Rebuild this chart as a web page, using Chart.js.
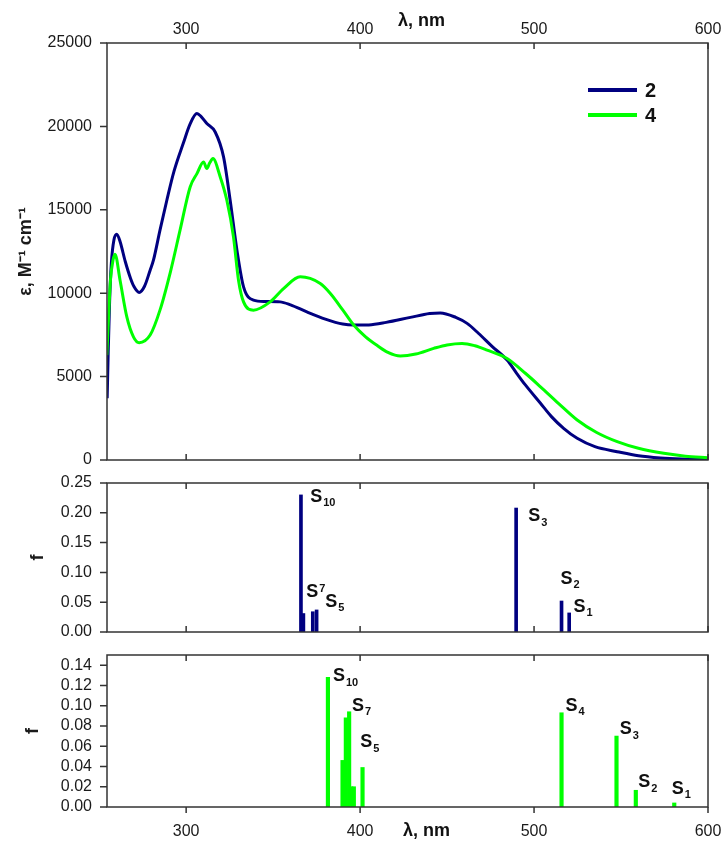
<!DOCTYPE html>
<html>
<head>
<meta charset="utf-8">
<script src="https://cdn.jsdelivr.net/npm/chart.js@4.4.1/dist/chart.umd.min.js"></script>
<style>
html, body { margin: 0; padding: 0; background: #fff; }
#wrap { position: relative; width: 721px; height: 841px; overflow: hidden; }
canvas { position: absolute; left: 0; }
</style>
</head>
<body>
<div id="wrap">
  <canvas id="spec" width="721" height="470" style="top:0px"></canvas>
  <canvas id="osc2" width="721" height="175" style="top:470px"></canvas>
  <canvas id="osc4" width="721" height="201" style="top:640px"></canvas>
</div>
<script>
// ---- data ----
const xTicks = [300, 400, 500, 600];
const epsTicks = [0, 5000, 10000, 15000, 20000, 25000];
const f2Ticks = [0, 0.05, 0.10, 0.15, 0.20, 0.25];
const f4Ticks = [0, 0.02, 0.04, 0.06, 0.08, 0.10, 0.12, 0.14];

// absorption spectrum, compound 2
const wl2 = [254.6, 255.2, 256.0, 257.0, 258.5, 260.1, 262, 265, 268, 270, 273, 276, 279.3, 281.2, 285, 288.9, 293, 298.4,
  302.3, 306.2, 308.5, 311.9, 316.7, 321.5, 325.3, 329.2, 333, 338.7, 345, 354, 360, 369.4, 380, 390, 396.3, 405,
  415, 428.9, 440, 446.1, 455, 461.5, 468, 476, 484.5, 490, 495, 503.7, 510, 517, 524.8, 535, 547.8, 560, 572.7, 585, 600];
const eps2 = [3700, 6500, 9500, 11800, 13200, 13540, 13100, 11900, 10900, 10400, 10045, 10400, 11380, 11980, 13800, 15574, 17300, 19000,
  20150, 20770, 20600, 20170, 19665, 18170, 15574, 12580, 10380, 9584, 9500, 9480, 9300, 8880, 8450, 8150, 8090, 8100,
  8250, 8550, 8780, 8820, 8550, 8190, 7600, 6800, 5990, 5200, 4500, 3400, 2600, 1900, 1300, 800, 500, 250, 120, 60, 30];

// absorption spectrum, compound 4
const wl4 = [254.4, 255.5, 256.5, 258, 259.1, 262, 265.9, 269.7, 273, 279.3, 285, 291, 296.5, 302.3, 306.2, 310,
  311.9, 313.5, 315.4, 319.6, 323.4, 327.2, 330.1, 333, 338.7, 348.3, 356, 365.6, 377.1, 382.9, 390, 396.3, 403,
  410, 416, 423.1, 432, 442.3, 450, 458.6, 466, 473, 484.5, 495, 503.7, 514, 524.8, 536, 547.8, 560, 574.6, 587, 600];
const eps4 = [6290, 8800, 10800, 12000, 12340, 10780, 8580, 7385, 7030, 7490, 9000, 11300, 13780, 16370, 17170, 17870,
  17470, 17800, 18070, 16970, 15570, 13380, 10782, 9480, 8985, 9480, 10280, 10980, 10580, 9985, 9000, 8090, 7400,
  6850, 6450, 6230, 6350, 6690, 6900, 6990, 6850, 6590, 6090, 5200, 4390, 3400, 2400, 1650, 1100, 700, 400, 230, 140];

// oscillator strengths, compound 2
const stickWl2 = [366.0, 367.4, 372.8, 375.0, 489.7, 515.8, 520.2];
const stickF2 = [0.230, 0.031, 0.034, 0.037, 0.208, 0.052, 0.032];
// oscillator strengths, compound 4
const stickWl4 = [381.5, 389.9, 391.8, 393.7, 394.9, 396.4, 401.4, 515.8, 547.4, 558.5, 580.6];
const stickF4 = [0.128, 0.046, 0.088, 0.094, 0.020, 0.020, 0.039, 0.093, 0.070, 0.0165, 0.004];

// state labels (S with subscript), anchored in data space
const lab2Sub = ['10', '7', '5', '3', '2', '1'];
const lab2Wl = [371.3, 369.0, 380.0, 496.6, 515.2, 522.7];
const lab2F = [0.227, 0.067, 0.051, 0.194, 0.089, 0.042];
const lab4Sub = ['10', '7', '5', '4', '3', '2', '1'];
const lab4Wl = [384.4, 395.3, 400.1, 518.1, 549.3, 559.9, 579.1];
const lab4F = [0.129, 0.100, 0.064, 0.100, 0.077, 0.0245, 0.018];

// ---- chart setup ----
const FONT = '"Liberation Sans", Arial, sans-serif';
const NAVY = '#000080', GREEN = '#00ff00', INK = '#333333';
Chart.defaults.font.family = FONT;
Chart.defaults.font.size = 16;
Chart.defaults.color = '#1a1a1a';
Chart.defaults.animation = false;
Chart.defaults.plugins.legend.display = false;
Chart.defaults.plugins.tooltip.enabled = false;

const pts = (xs, ys) => xs.map((x, i) => ({x: x, y: ys[i]}));
const fixedTicks = vals => s => { s.ticks = vals.map(v => ({value: v})); };
const noGrid = {display: false, drawTicks: false};
// fixed axis box, no extra room for edge labels
const fitX = h => s => { s.height = h; s.paddingLeft = 0; s.paddingRight = 0; };
const fitY = s => { s.width = 107; s.paddingTop = 0; s.paddingBottom = 0; };

// frame, inward/outward tick marks, axis title, S labels, legend
const decor = {
  id: 'decor',
  afterDatasetsDraw(chart, args, o) {
    const {ctx, chartArea: a} = chart;
    const xs = chart.scales.x, ys = chart.scales.y;
    ctx.save();
    ctx.strokeStyle = INK;
    ctx.lineWidth = 1.5;
    ctx.strokeRect(a.left, a.top, a.right - a.left, a.bottom - a.top);
    ctx.beginPath();
    ys.ticks.forEach(t => {
      const y = ys.getPixelForValue(t.value);
      ctx.moveTo(a.left - 7, y); ctx.lineTo(a.left, y);
    });
    xTicks.forEach(v => {
      const x = xs.getPixelForValue(v);
      ctx.moveTo(x, a.top); ctx.lineTo(x, a.top + 6);
      ctx.moveTo(x, a.bottom); ctx.lineTo(x, a.bottom + (o.bottomOut ? 6 : -6));
    });
    ctx.stroke();

    ctx.fillStyle = '#111';
    if (o.xTitle) {
      ctx.font = 'bold 18px ' + FONT;
      ctx.textAlign = 'center';
      ctx.textBaseline = 'middle';
      const cx = (a.left + a.right) / 2 + o.xTitle.dx;
      const cy = o.xTitle.top ? a.top + o.xTitle.dy : a.bottom + o.xTitle.dy;
      ctx.fillText('λ, nm', cx, cy);
    }

    if (o.legend) {
      ctx.textAlign = 'left';
      ctx.textBaseline = 'middle';
      ctx.font = 'bold 20px ' + FONT;
      chart.data.datasets.forEach((ds, i) => {
        const y = a.top + 47 + i * 25;
        const x = a.right - 120;
        ctx.strokeStyle = ds.borderColor;
        ctx.lineWidth = 4;
        ctx.beginPath(); ctx.moveTo(x, y); ctx.lineTo(x + 49, y); ctx.stroke();
        ctx.fillText(ds.label, x + 57, y + 1);
      });
    }

    if (o.labels) {
      const L = o.labels;
      ctx.textAlign = 'left';
      ctx.textBaseline = 'middle';
      L.sub.forEach((s, i) => {
        const x = xs.getPixelForValue(L.wl[i]);
        const y = ys.getPixelForValue(L.f[i]);
        ctx.font = 'bold 18px ' + FONT;
        ctx.fillText('S', x, y);
        const w = ctx.measureText('S').width;
        ctx.font = 'bold 11px ' + FONT;
        ctx.fillText(s, x + w + 1, y + (L.raised === i ? -3 : 6.5));
      });
    }
    ctx.restore();
  }
};

const xScale = extra => Object.assign({
  type: 'linear', min: 254.5, max: 600, offset: false,
  afterBuildTicks: fixedTicks(xTicks),
  grid: noGrid, border: {display: false},
  ticks: {autoSkip: false, maxRotation: 0, callback: v => String(v)}
}, extra);

const yScale = (min, max, ticks, fmt, title) => ({
  min: min, max: max,
  afterBuildTicks: fixedTicks(ticks),
  afterFit: fitY,
  grid: noGrid, border: {display: false},
  ticks: {autoSkip: false, padding: 15, callback: fmt},
  title: title
});

// ---- top: absorption spectra ----
new Chart(document.getElementById('spec'), {
  type: 'line',
  data: {
    datasets: [
      {label: '2', data: pts(wl2, eps2), borderColor: NAVY, order: 1},
      {label: '4', data: pts(wl4, eps4), borderColor: GREEN, order: 0}
    ]
  },
  options: {
    responsive: false,
    layout: {padding: {top: 0, right: 13, bottom: 10, left: 0}},
    elements: {point: {radius: 0}, line: {borderWidth: 3, cubicInterpolationMode: 'monotone'}},
    scales: {
      x: xScale({position: 'top', afterFit: fitX(43),
        ticks: {autoSkip: false, maxRotation: 0, padding: 4, callback: v => String(v)}}),
      y: yScale(0, 25000, epsTicks, v => String(v),
        {display: true, text: 'ε, M⁻¹ cm⁻¹', font: {weight: 'bold', size: 18}, padding: {top: 15, bottom: 0}})
    },
    plugins: {decor: {legend: true, bottomOut: false, xTitle: {top: true, dx: 14, dy: -22}}}
  },
  plugins: [decor]
});

// ---- middle: oscillator strengths of 2 ----
new Chart(document.getElementById('osc2'), {
  type: 'bar',
  data: {datasets: [{data: pts(stickWl2, stickF2), backgroundColor: NAVY, barThickness: 3}]},
  options: {
    responsive: false,
    layout: {padding: {top: 13, right: 13, bottom: 13, left: 0}},
    scales: {
      x: xScale({display: false, afterFit: fitX(0)}),
      y: yScale(0, 0.25, f2Ticks, v => v.toFixed(2),
        {display: true, text: 'f', font: {weight: 'bold', size: 18}, padding: {top: 27, bottom: 0}})
    },
    plugins: {decor: {bottomOut: false, labels: {sub: lab2Sub, wl: lab2Wl, f: lab2F, raised: 1}}}
  },
  plugins: [decor]
});

// ---- bottom: oscillator strengths of 4 ----
new Chart(document.getElementById('osc4'), {
  type: 'bar',
  data: {datasets: [{data: pts(stickWl4, stickF4), backgroundColor: GREEN, barThickness: 3.5}]},
  options: {
    responsive: false,
    layout: {padding: {top: 15, right: 13, bottom: 0, left: 0}},
    scales: {
      x: xScale({position: 'bottom', afterFit: fitX(34),
        ticks: {autoSkip: false, maxRotation: 0, padding: 15, callback: v => String(v)}}),
      y: yScale(0, 0.15, f4Ticks, v => v.toFixed(2),
        {display: true, text: 'f', font: {weight: 'bold', size: 18}, padding: {top: 22, bottom: 0}})
    },
    plugins: {decor: {bottomOut: true, xTitle: {top: false, dx: 19, dy: 24}, labels: {sub: lab4Sub, wl: lab4Wl, f: lab4F}}}
  },
  plugins: [decor]
});
</script>
</body>
</html>
